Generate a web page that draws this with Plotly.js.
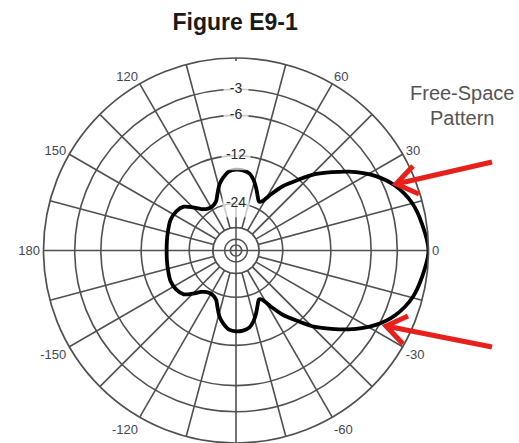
<!DOCTYPE html>
<html>
<head>
<meta charset="utf-8">
<script src="https://cdn.plot.ly/plotly-3.0.1.min.js"></script>
<style>html,body{margin:0;padding:0;background:#fff;}#chart{width:519px;height:443px;}</style>
</head>
<body>
<div id="chart"></div>
<script>
// Pattern: azimuth angle (degrees) and relative gain (dB)
const patternAngle = [-180,-172,-165,-155,-147,-140,-135,-130,-125,-118,-112,-108,-104,-100,-95,-90,-85,-80,-76,-72,-68,-65,-62,-58,-54,-49,-44,-35,-28,-22,-15,-8,
  0,8,15,22,28,35,44,49,54,58,62,65,68,72,76,80,85,90,95,100,104,108,112,118,125,130,135,140,147,155,165,172,180];
const patternDb = [-17.3,-17.2,-17.0,-16.6,-16.8,-17.6,-19.5,-21.5,-22.6,-22.8,-21.8,-19.8,-17.6,-16.2,-15.0,-14.7,-14.8,-15.3,-16.5,-18.3,-20.3,-21.5,-21.0,-18.0,-15.0,-12.3,-9.5,-5.7,-3.3,-1.9,-0.9,-0.4,
  0,-0.4,-0.9,-1.9,-3.3,-5.7,-9.5,-12.3,-15.0,-18.0,-21.0,-21.5,-20.3,-18.3,-16.5,-15.3,-14.8,-14.7,-15.0,-16.2,-17.6,-19.8,-21.8,-22.8,-22.6,-21.5,-19.5,-17.6,-16.8,-16.6,-17.0,-17.2,-17.3];

// Grid circles (dB) and the labelled ones
const ringDb = [-3,-6,-12,-24,-36,-48,-60];
const innerRingDb = [-36,-48,-60];
const ringLabelDb = [-3,-6,-12,-24];
const ringLabels = ['-3','-6','-12','-24'];

// Angular spokes and labels
const spokeAngles = [0,15,30,45,60,75,90,105,120,135,150,165,180,195,210,225,240,255,270,285,300,315,330,345];
const spokeLabels = ['0','','30','','60','','','','120','','150','','180','','-150','','-120','','','','-60','','-30',''];

// log-periodic radial scale (ARRL-style)
const dbToR = db => Math.exp(0.059 * db);

const W = 519, H = 443;
const GRID = '#505050';
const P = (x, y) => [(x / W).toFixed(4), (1 - y / H).toFixed(4)];
function pathOf(pts){ return pts.map(p=>{const q=P(p[1],p[2]);return p[0]+' '+q[0]+' '+q[1];}).join(' '); }

const ringTheta = spokeAngles.concat([360]);
const rIn = dbToR(innerRingDb[0]);

const traces = [
  // hide the 90° spoke above the -24 ring (labels sit there)
  { type:'scatterpolar', mode:'lines', r:[dbToR(ringLabelDb[3]), 0.985], theta:[90,90],
    line:{color:'#ffffff', width:5}, hoverinfo:'skip', showlegend:false },
  // clean centre: white disc bounded by the -36 ring
  { type:'scatterpolar', mode:'lines', r:ringTheta.map(()=>rIn), theta:ringTheta, fill:'toself', fillcolor:'#ffffff',
    line:{color:GRID, width:1.5}, hoverinfo:'skip', showlegend:false },
  { type:'scatterpolar', mode:'lines', r:ringTheta.map(()=>dbToR(innerRingDb[1])), theta:ringTheta,
    line:{color:GRID, width:1.5}, hoverinfo:'skip', showlegend:false },
  { type:'scatterpolar', mode:'lines', r:ringTheta.map(()=>dbToR(innerRingDb[2])), theta:ringTheta,
    line:{color:GRID, width:1.5}, hoverinfo:'skip', showlegend:false },
  { type:'scatterpolar', mode:'lines', r:[rIn,0,rIn], theta:[0,0,180],
    line:{color:GRID, width:1.5}, hoverinfo:'skip', showlegend:false },
  { type:'scatterpolar', mode:'lines', r:[rIn,0,rIn], theta:[90,90,270],
    line:{color:GRID, width:1.5}, hoverinfo:'skip', showlegend:false },
  // radiation pattern
  { type:'scatterpolar', mode:'lines', r:patternDb.map(dbToR), theta:patternAngle,
    line:{color:'#000000', width:3.8, shape:'spline', smoothing:0.8}, showlegend:false },
  // ring labels
  { type:'scatterpolar', mode:'markers+text', r:ringLabelDb.map(dbToR), theta:ringLabelDb.map(()=>90),
    text:ringLabels, textposition:'middle center',
    textfont:{family:'Liberation Sans, Arial, sans-serif', size:14, color:'#2a2a2a'},
    marker:{symbol:'square', color:'#ffffff', size:[24,24,28,26]}, hoverinfo:'skip', showlegend:false }
];

const layout = {
  width: W, height: H,
  margin:{l:0,r:0,t:0,b:0},
  paper_bgcolor:'#ffffff',
  showlegend:false,
  title:{text:'<b>Figure E9-1</b>', x:0.453, xanchor:'center', y:0.95, yanchor:'middle',
         font:{family:'Liberation Sans, Arial, sans-serif', size:23, color:'#1a1a1a'}},
  polar:{
    domain:{x:[43/W, 429/W], y:[0, 385/H]},
    bgcolor:'#ffffff',
    radialaxis:{range:[0,1], tickmode:'array', tickvals:ringDb.map(dbToR), showticklabels:false,
      ticks:'', showline:false, gridcolor:GRID, gridwidth:1.6, angle:90},
    angularaxis:{rotation:0, direction:'counterclockwise', tickmode:'array', tickvals:spokeAngles, ticktext:spokeLabels,
      ticks:'', showline:true, linecolor:GRID, linewidth:1.7, gridcolor:GRID, gridwidth:1.6,
      tickfont:{family:'Liberation Sans, Arial, sans-serif', size:13, color:'#3f4859'}}
  },
  annotations:[
    {text:'Free-Space', xref:'paper', yref:'paper', x:462/W, y:1-93/H, xanchor:'center', yanchor:'middle', showarrow:false,
     font:{family:'Liberation Sans, Arial, sans-serif', size:20, color:'#555'}},
    {text:'Pattern', xref:'paper', yref:'paper', x:462/W, y:1-118/H, xanchor:'center', yanchor:'middle', showarrow:false,
     font:{family:'Liberation Sans, Arial, sans-serif', size:20, color:'#555'}}
  ],
  shapes:[
    {type:'path', xref:'paper', yref:'paper', line:{color:'#e8201c', width:5},
     path: pathOf([['M',492,162],['L',396,184],['M',413,166],['L',396,184],['L',419,194]])},
    {type:'path', xref:'paper', yref:'paper', line:{color:'#e8201c', width:5},
     path: pathOf([['M',492,347],['L',386,326],['M',408,316],['L',386,326],['L',403,344]])}
  ]
};

Plotly.newPlot('chart', traces, layout, {displayModeBar:false, staticPlot:true});
</script>
</body>
</html>
